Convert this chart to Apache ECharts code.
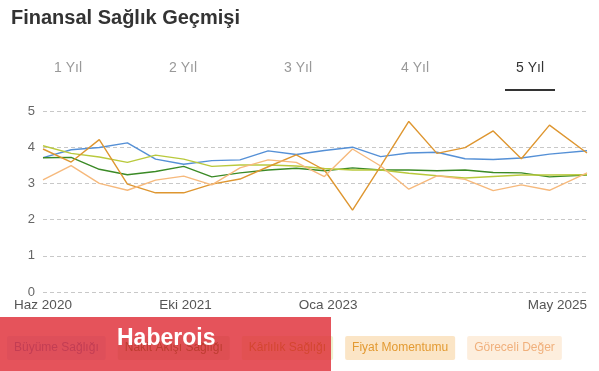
<!DOCTYPE html>
<html>
<head>
<meta charset="utf-8">
<script src="https://cdn.jsdelivr.net/npm/echarts@6/dist/echarts.min.js"></script>
<style>
  html, body { margin: 0; padding: 0; background: #fff; }
  #chart { width: 599px; height: 371px; }
</style>
</head>
<body>
<div id="chart"></div>
<script>
// Months since June 2020 for each data point
const months = [0, 3, 6, 9, 12, 15, 18, 21, 24, 27, 30, 33, 36, 39, 42, 45, 48, 51, 54, 58];

const seriesNames = ['Büyüme Sağlığı', 'Nakit Akışı Sağlığı', 'Kârlılık Sağlığı', 'Fiyat Momentumu', 'Göreceli Değer'];

const buyume   = [3.71, 3.93, 3.99, 4.12, 3.67, 3.53, 3.63, 3.65, 3.90, 3.80, 3.91, 4.00, 3.74, 3.84, 3.86, 3.68, 3.66, 3.70, 3.81, 3.90];
const nakit    = [3.71, 3.72, 3.39, 3.24, 3.33, 3.47, 3.18, 3.29, 3.37, 3.42, 3.35, 3.43, 3.37, 3.37, 3.35, 3.37, 3.30, 3.29, 3.18, 3.23];
const karlilik = [4.04, 3.83, 3.73, 3.58, 3.78, 3.67, 3.47, 3.51, 3.51, 3.48, 3.41, 3.37, 3.37, 3.28, 3.21, 3.15, 3.19, 3.23, 3.23, 3.24];
const fiyat    = [3.95, 3.59, 4.21, 2.98, 2.74, 2.74, 2.98, 3.12, 3.46, 3.79, 3.37, 2.26, 3.48, 4.71, 3.83, 3.99, 4.45, 3.68, 4.61, 3.84];
const goreceli = [3.10, 3.49, 3.00, 2.81, 3.09, 3.20, 2.96, 3.43, 3.65, 3.58, 3.19, 3.95, 3.48, 2.84, 3.21, 3.11, 2.80, 2.96, 2.81, 3.29];

const tickMonths = [0, 15.2, 30.4, 58];
const tickLabels = ['Haz 2020', 'Eki 2021', 'Oca 2023', 'May 2025'];

const tabLabels = ['1 Yıl', '2 Yıl', '3 Yıl', '4 Yıl', '5 Yıl'];

const lineColors = ['#5590d6', '#3b8a26', '#b9c93c', '#de9630', '#f6b97c'];
const legendText = ['#5590d6', '#3b8a26', '#a9bb2c', '#e39a32', '#f0b07c'];
const legendBg   = ['#dde9f7', '#dcebd6', '#eef2cf', '#fbe5c6', '#fdeedd'];

const allValues = [buyume, nakit, karlilik, fiyat, goreceli];

const FONT = 'Liberation Sans, Arial, sans-serif';

const chart = echarts.init(document.getElementById('chart'), null, { renderer: 'canvas' });

const series = seriesNames.map((name, i) => ({
  name: name,
  type: 'line',
  data: months.map((m, j) => [m, allValues[i][j]]),
  showSymbol: false,
  symbol: 'none',
  lineStyle: { width: 1.4, color: lineColors[i] },
  itemStyle: { color: lineColors[i] },
  animation: false,
  z: 2
}));

const tabGraphics = tabLabels.map((t, i) => ({
  type: 'text',
  x: [68, 183, 298, 415, 530][i],
  y: 68,
  style: {
    text: t,
    textAlign: 'center',
    textVerticalAlign: 'middle',
    fontSize: 14,
    fontFamily: FONT,
    fill: i === 4 ? '#333' : '#999'
  }
}));

const option = {
  backgroundColor: '#fff',
  animation: false,
  title: {
    text: 'Finansal Sağlık Geçmişi',
    left: 11,
    top: 8,
    padding: 0,
    textStyle: { fontSize: 20, fontWeight: 'bold', color: '#333', fontFamily: FONT }
  },
  grid: { left: 43, right: 12, top: 111, bottom: 79, containLabel: false },
  xAxis: {
    type: 'value',
    min: 0,
    max: 58,
    axisLine: { show: false },
    axisTick: { show: false },
    splitLine: { show: false },
    axisLabel: {
      customValues: tickMonths,
      showMinLabel: true,
      showMaxLabel: true,
      alignMaxLabel: 'right',
      margin: 6,
      fontSize: 13.5,
      fontFamily: FONT,
      color: '#555',
      formatter: function (v) {
        let best = 0, d = Infinity;
        tickMonths.forEach((t, k) => { if (Math.abs(t - v) < d) { d = Math.abs(t - v); best = k; } });
        return tickLabels[best];
      }
    }
  },
  yAxis: {
    type: 'value',
    min: 0,
    max: 5,
    interval: 1,
    axisLine: { show: false },
    axisTick: { show: false },
    axisLabel: { margin: 8, fontSize: 13, fontFamily: FONT, color: '#666' },
    splitLine: { show: true, lineStyle: { type: [4, 3], color: '#c8c8c8', width: 1 } }
  },
  legend: {
    left: 2,
    top: 336,
    padding: 0,
    itemGap: 7,
    itemWidth: 0,
    itemHeight: 0,
    icon: 'none',
    selectedMode: false,
    data: seriesNames.map((n, i) => ({
      name: n,
      icon: 'none',
      textStyle: {
        color: legendText[i],
        backgroundColor: legendBg[i],
        padding: [6, 7],
        lineHeight: 12,
        fontSize: 12,
        fontFamily: FONT,
        borderRadius: 2
      }
    }))
  },
  graphic: [
    ...tabGraphics,
    { type: 'rect', shape: { x: 505, y: 89, width: 50, height: 2 }, style: { fill: '#333' } },
    { type: 'rect', z: 100, shape: { x: 0, y: 317, width: 331, height: 54 }, style: { fill: 'rgba(222,40,50,0.8)' } },
    { type: 'text', z: 101, x: 117, y: 339, style: { text: 'Haberois', fill: '#fff', fontSize: 23, fontWeight: 'bold', fontFamily: FONT, textVerticalAlign: 'middle' } }
  ],
  series: series
};

chart.setOption(option);
</script>
</body>
</html>
